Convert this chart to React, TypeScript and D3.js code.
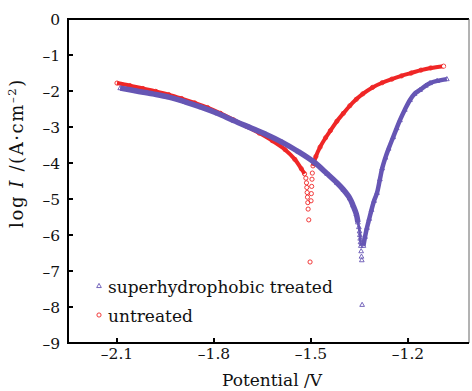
import React from "react";
import * as d3 from "d3";

// potential (V) vs log current density
const untreatedCathodic: [number, number][] = [
  [-2.1, -1.78], [-2.06, -1.85], [-2.02, -1.93], [-1.98, -2.01], [-1.94, -2.1],
  [-1.9, -2.21], [-1.86, -2.33], [-1.82, -2.46], [-1.78, -2.62], [-1.74, -2.8],
  [-1.7, -2.98], [-1.66, -3.17], [-1.62, -3.38], [-1.58, -3.63], [-1.55, -3.9],
  [-1.53, -4.16], [-1.52, -4.3],
];
const untreatedNearEcorr: [number, number][] = [
  [-1.516, -4.42], [-1.514, -4.55], [-1.513, -4.68], [-1.512, -4.82], [-1.511, -4.95],
  [-1.51, -5.1], [-1.509, -5.28], [-1.507, -5.58], [-1.503, -6.75],
  [-1.5, -5.05], [-1.499, -4.85], [-1.498, -4.65], [-1.497, -4.45], [-1.496, -4.28],
];
const untreatedAnodic: [number, number][] = [
  [-1.494, -4.08], [-1.485, -3.82], [-1.472, -3.56], [-1.455, -3.3], [-1.44, -3.1],
  [-1.42, -2.84], [-1.4, -2.62], [-1.38, -2.41], [-1.36, -2.23], [-1.34, -2.08],
  [-1.31, -1.9], [-1.28, -1.77], [-1.25, -1.67], [-1.22, -1.58], [-1.19, -1.5],
  [-1.16, -1.42], [-1.13, -1.36], [-1.09, -1.31],
];

const treatedCathodic: [number, number][] = [
  [-2.09, -1.92], [-2.04, -2.0], [-1.99, -2.08], [-1.94, -2.17], [-1.89, -2.3],
  [-1.84, -2.45], [-1.79, -2.62], [-1.74, -2.82], [-1.69, -3.01], [-1.64, -3.2],
  [-1.59, -3.42], [-1.54, -3.68], [-1.49, -3.98], [-1.45, -4.3], [-1.42, -4.55],
  [-1.4, -4.74], [-1.38, -4.98], [-1.37, -5.18], [-1.36, -5.42], [-1.355, -5.65],
  [-1.352, -5.78], [-1.35, -5.9], [-1.349, -6.0], [-1.348, -6.1], [-1.347, -6.2],
  [-1.346, -6.3],
];
const treatedNearEcorr: [number, number][] = [
  [-1.345, -6.45], [-1.344, -6.6], [-1.343, -6.7], [-1.342, -7.94],
];
const treatedAnodic: [number, number][] = [
  [-1.338, -6.3], [-1.333, -6.05], [-1.327, -5.8], [-1.32, -5.55], [-1.313, -5.3],
  [-1.305, -5.05], [-1.296, -4.83], [-1.287, -4.45], [-1.28, -4.15], [-1.27, -3.85],
  [-1.26, -3.6], [-1.246, -3.28], [-1.235, -3.03], [-1.225, -2.81], [-1.21, -2.52],
  [-1.194, -2.25], [-1.18, -2.08], [-1.163, -1.97], [-1.145, -1.85], [-1.132, -1.78],
  [-1.11, -1.72], [-1.08, -1.67],
];

const xTicks = [-2.1, -1.8, -1.5, -1.2];
const yTicks = [0, -1, -2, -3, -4, -5, -6, -7, -8, -9];
const legendLabels = ["superhydrophobic treated", "untreated"];

const RED = "#ef2626";
const BLUE = "#6656b4";

const fmt = (v: number) => (v < 0 ? "\u2013" + String(Math.abs(v)) : String(v));

export default function App() {
  const left = 68, right = 469, top = 19, bottom = 343;
  const x = d3.scaleLinear().domain([-2.2515, -1.0115]).range([left, right]);
  const y = d3.scaleLinear().domain([-9, 0]).range([bottom, top]);
  const line = d3
    .line<[number, number]>()
    .x((d) => x(d[0]))
    .y((d) => y(d[1]))
    .curve(d3.curveCatmullRom);

  const tri = (cx: number, cy: number, s: number) =>
    `M${cx},${cy - s}L${cx + s * 0.9},${cy + s * 0.6}L${cx - s * 0.9},${cy + s * 0.6}Z`;

  const circles = (pts: [number, number][], key: string) =>
    pts.map((d, i) => (
      <circle key={key + i} cx={x(d[0])} cy={y(d[1])} r={2.1} fill="none" stroke={RED} strokeWidth={0.9} />
    ));
  const triangles = (pts: [number, number][], key: string) =>
    pts.map((d, i) => (
      <path key={key + i} d={tri(x(d[0]), y(d[1]), 2.6)} fill="none" stroke={BLUE} strokeWidth={0.9} />
    ));

  const font = "'DejaVu Serif', serif";
  // the thick band only where the markers overlap densely
  const treatedBand = treatedCathodic.filter((d) => d[1] > -5.7);

  return (
    <svg width={472} height={391} style={{ position: "absolute", left: 0, top: 0, background: "#fff" }}>
      {/* untreated */}
      <path d={line(untreatedCathodic) ?? ""} fill="none" stroke={RED} strokeWidth={4} />
      <path d={line(untreatedAnodic) ?? ""} fill="none" stroke={RED} strokeWidth={4} />
      {circles(untreatedCathodic, "rc")}
      {circles(untreatedNearEcorr, "rn")}
      {circles(untreatedAnodic, "ra")}
      <circle cx={x(-1.09)} cy={y(-1.31)} r={1.6} fill="#fff" />

      {/* superhydrophobic treated */}
      <path d={line(treatedCathodic) ?? ""} fill="none" stroke={BLUE} strokeWidth={2.5} />
      <path d={line(treatedBand) ?? ""} fill="none" stroke={BLUE} strokeWidth={5.5} />
      <path d={line(treatedAnodic) ?? ""} fill="none" stroke={BLUE} strokeWidth={4.5} />
      {triangles(treatedCathodic, "bc")}
      {triangles(treatedNearEcorr, "bn")}
      {triangles(treatedAnodic, "ba")}

      {/* frame */}
      <line x1={left} x2={right} y1={top} y2={top} stroke="#000" strokeWidth={2} />
      <line x1={right} x2={right} y1={top} y2={bottom} stroke="#666" strokeWidth={1} />
      <line x1={left} x2={left} y1={top - 1} y2={bottom + 1} stroke="#000" strokeWidth={2} />
      <line x1={left - 1} x2={right} y1={bottom} y2={bottom} stroke="#000" strokeWidth={2} />

      {xTicks.map((t) => (
        <g key={"x" + t}>
          <line x1={x(t)} x2={x(t)} y1={bottom} y2={bottom - 5} stroke="#000" strokeWidth={2} />
          <text x={x(t)} y={359} textAnchor="middle" fontFamily={font} fontSize={15.5} fill="#111">
            {fmt(t)}
          </text>
        </g>
      ))}
      {yTicks.map((t) => (
        <g key={"y" + t}>
          {t > -9 && t < 0 && (
            <line x1={left} x2={left + 5} y1={y(t)} y2={y(t)} stroke="#000" strokeWidth={2} />
          )}
          <text x={60} y={y(t)} dy="0.36em" textAnchor="end" fontFamily={font} fontSize={15.5} fill="#111">
            {fmt(t)}
          </text>
        </g>
      ))}

      <text x={272} y={386} textAnchor="middle" fontFamily={font} fontSize={17} fill="#111">
        Potential /V
      </text>
      <text
        transform="translate(23,153) rotate(-90)"
        textAnchor="middle"
        fontFamily={font}
        fontSize={18}
        letterSpacing={1.6}
        fill="#111"
      >
        log <tspan fontStyle="italic">I</tspan> /(A·cm
        <tspan fontSize={11.5} dy={-7}>{"\u2013"}2</tspan>
        <tspan dy={7}>)</tspan>
      </text>

      {/* legend */}
      <path d={tri(99, 286, 2.6)} fill="none" stroke={BLUE} strokeWidth={0.9} />
      <text x={108} y={293} fontFamily={font} fontSize={17} fill="#111">
        {legendLabels[0]}
      </text>
      <circle cx={99} cy={315} r={2.1} fill="none" stroke={RED} strokeWidth={0.9} />
      <text x={108} y={322} fontFamily={font} fontSize={17} fill="#111">
        {legendLabels[1]}
      </text>
    </svg>
  );
}
